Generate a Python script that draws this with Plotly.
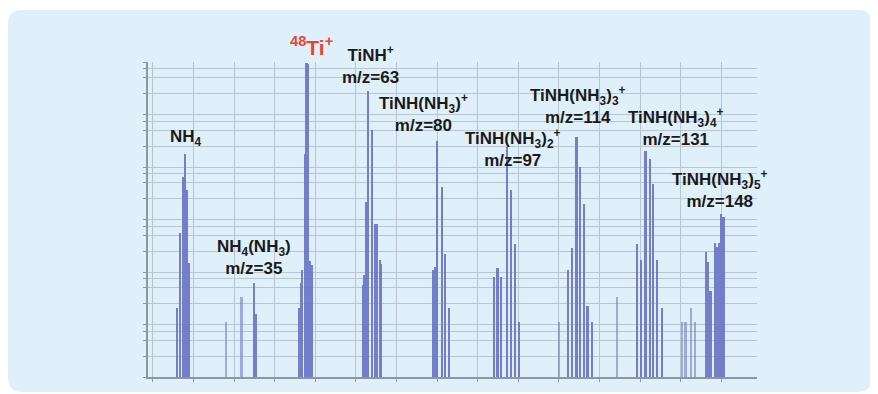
import plotly.graph_objects as go

# ---- data: m/z positions and intensities (counts, log scale) ----
main_mz = [15.9, 16.7, 17.4, 18.0, 18.35, 18.9,
           35.0, 35.4,
           46.1, 46.6, 46.85, 47.5, 47.9, 48.15, 48.8, 49.2,
           61.85, 62.2, 62.5, 63.1, 64.0, 64.9, 65.3, 65.95, 66.2,
           79.1, 79.5, 80.1, 81.2, 82.1, 83.0,
           94.0, 94.95, 95.9, 97.2, 98.2, 99.3, 100.3,
           112.3, 113.2, 114.4, 115.2, 116.3, 117.1, 118.3,
           129.2, 130.2, 131.4, 132.5, 133.3, 134.3, 135.4,
           146.3, 146.7, 147.4, 148.5, 148.9, 149.5, 150.1, 150.6]
main_log = [1.31, 2.74, 3.81, 4.25, 3.56, 2.17,
            1.78, 1.18,
            1.31, 1.78, 2.03, 4.25, 5.98, 5.96, 2.21, 2.13,
            1.75, 1.94, 3.33, 5.44, 4.71, 2.92, 2.92, 2.22, 2.15,
            2.03, 2.10, 4.50, 3.62, 2.35, 1.31,
            1.91, 2.08, 1.89, 4.38, 3.56, 2.54, 1.02,
            2.03, 2.45, 4.57, 4.00, 3.30, 1.34, 1.02,
            2.54, 2.22, 4.31, 4.16, 3.68, 2.22, 1.31,
            2.38, 2.19, 1.62, 2.55, 2.48, 2.56, 3.11, 3.05]
main_counts = [round(10 ** v) for v in main_log]

minor_mz = [28.0, 31.9, 110.05, 124.3, 140.4, 141.25, 142.5, 143.5]
minor_log = [1.0, 1.5, 1.02, 1.5, 1.0, 1.0, 1.31, 1.0]
minor_counts = [round(10 ** v) for v in minor_log]

# gridlines (log axis: 1, 2.5, 5, 7.5 per decade)
grid_y = [m * 10 ** d for d in range(6) for m in (1, 2.5, 5, 7.5)] + [10 ** 6]

# labels: (text, m/z, log10 y)
labels = [
    ("NH<sub>4</sub>", 18.2, 4.55),
    ("NH<sub>4</sub>(NH<sub>3</sub>)<br>m/z=35", 34.9, 2.27),
    ("TiNH<sup>+</sup><br>m/z=63", 63.5, 5.94),
    ("TiNH(NH<sub>3</sub>)<sup>+</sup><br>m/z=80", 76.6, 5.03),
    ("TiNH(NH<sub>3</sub>)<sub>2</sub><sup>+</sup><br>m/z=97", 98.7, 4.36),
    ("TiNH(NH<sub>3</sub>)<sub>3</sub><sup>+</sup><br>m/z=114", 114.7, 5.18),
    ("TiNH(NH<sub>3</sub>)<sub>4</sub><sup>+</sup><br>m/z=131", 138.9, 4.76),
    ("TiNH(NH<sub>3</sub>)<sub>5</sub><sup>+</sup><br>m/z=148", 149.7, 3.58),
]
ti_label = ("<sup>48</sup>Ti<sup>+</sup>", 49.0, 1.097)  # y in paper units

FONT = "Liberation Sans, Arial, sans-serif"
BAR = "#6a72c5"

fig = go.Figure()
fig.add_trace(go.Bar(x=main_mz, y=main_counts, base=1, width=0.4,
                     marker=dict(color=BAR, line=dict(width=0)), opacity=0.9))
fig.add_trace(go.Bar(x=minor_mz, y=minor_counts, base=1, width=0.4,
                     marker=dict(color=BAR, line=dict(width=0)), opacity=0.55))

# page has an 8px body margin; figure sized to fit inside it
W, H = 870, 386
L, R, T, B = 140, 121, 54, 17
pw, ph = W - L - R, H - T - B

def px(xp):
    return (xp - L) / pw

def py(yp):
    return (H - B - yp) / ph

x0, x1, y0, y1 = px(0), px(864), py(384), py(2)
rx, ry = 14 / pw, 14 / ph
path = (f"M {x0+rx},{y0} L {x1-rx},{y0} Q {x1},{y0} {x1},{y0+ry} "
        f"L {x1},{y1-ry} Q {x1},{y1} {x1-rx},{y1} L {x0+rx},{y1} "
        f"Q {x0},{y1} {x0},{y1-ry} L {x0},{y0+ry} Q {x0},{y0} {x0+rx},{y0} Z")

fig.update_layout(
    width=W, height=H,
    margin=dict(l=L, r=R, t=T, b=B),
    paper_bgcolor="white",
    plot_bgcolor="rgba(0,0,0,0)",
    showlegend=False,
    bargap=0,
    barmode="overlay",
    shapes=[dict(type="path", path=path, xref="paper", yref="paper",
                 fillcolor="#dff0fa", line=dict(width=0), layer="below")],
    xaxis=dict(range=[8.8, 158.8], dtick=10, tick0=0, showticklabels=False,
               showgrid=True, gridcolor="#b9c6cf", gridwidth=1,
               showline=True, linecolor="#8f979e", linewidth=1.5,
               ticks="outside", ticklen=3, tickcolor="#8f979e",
               zeroline=False, fixedrange=True),
    yaxis=dict(type="log", range=[0, 6], tickvals=grid_y, showticklabels=False,
               showgrid=True, gridcolor="#b9c6cf", gridwidth=1,
               showline=True, linecolor="#8f979e", linewidth=1.5,
               ticks="outside", ticklen=3, tickcolor="#8f979e",
               zeroline=False, fixedrange=True),
)

for text, xm, yl in labels:
    fig.add_annotation(x=xm, y=yl, text=f"<b>{text}</b>", showarrow=False,
                       font=dict(family=FONT, size=17, color="#1a1a1a"),
                       align="center")
fig.add_annotation(x=ti_label[1], y=ti_label[2], yref="paper",
                   text=f"<b>{ti_label[0]}</b>", showarrow=False,
                   font=dict(family=FONT, size=21, color="#ea4530"))

fig.write_html("out.html")
